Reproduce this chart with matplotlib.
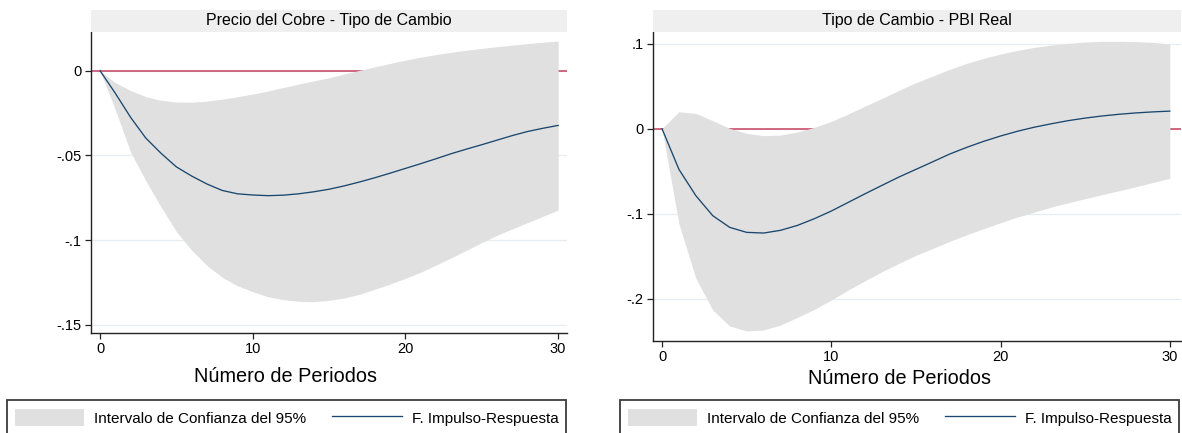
import numpy as np
import matplotlib.pyplot as plt
import matplotlib.patches as mpatches

# datos (periodos 0..30)
periods = list(range(0, 31))

cobre_irf = [0, -0.0133, -0.0275, -0.0398, -0.0488, -0.0568, -0.0622, -0.0669, -0.0707, -0.0727,
             -0.0734, -0.0738, -0.0735, -0.0727, -0.0715, -0.0700, -0.0680, -0.0657, -0.0632, -0.0605,
             -0.0577, -0.0549, -0.0520, -0.0490, -0.0463, -0.0437, -0.0410, -0.0383, -0.0359, -0.0340,
             -0.0323]
cobre_upper = [0, -0.0070, -0.0117, -0.0153, -0.0175, -0.0185, -0.0186, -0.0180, -0.0168, -0.0154,
               -0.0138, -0.0120, -0.0099, -0.0079, -0.0060, -0.0042, -0.0019, 0.0002, 0.0023, 0.0043,
               0.0062, 0.0080, 0.0095, 0.0109, 0.0121, 0.0132, 0.0142, 0.0151, 0.0160, 0.0168,
               0.0175]
cobre_lower = [0, -0.0230, -0.0480, -0.0650, -0.0805, -0.0950, -0.1060, -0.1150, -0.1220, -0.1270,
               -0.1305, -0.1335, -0.1352, -0.1362, -0.1364, -0.1356, -0.1342, -0.1320, -0.1290, -0.1260,
               -0.1226, -0.1190, -0.1148, -0.1105, -0.1060, -0.1015, -0.0972, -0.0934, -0.0897, -0.0860,
               -0.0823]

pbi_irf = [0, -0.0479, -0.0789, -0.1025, -0.1162, -0.1221, -0.1229, -0.1197, -0.1139, -0.1060,
           -0.0970, -0.0868, -0.0766, -0.0667, -0.0569, -0.0479, -0.0389, -0.0298, -0.0220, -0.0149,
           -0.0086, -0.0030, 0.0018, 0.0058, 0.0095, 0.0125, 0.0150, 0.0170, 0.0186, 0.0198,
           0.0207]
pbi_upper = [0, 0.0200, 0.0180, 0.0094, 0.0004, -0.0055, -0.0082, -0.0075, -0.0039, 0.0016,
             0.0086, 0.0173, 0.0267, 0.0357, 0.0452, 0.0542, 0.0620, 0.0699, 0.0770, 0.0828,
             0.0880, 0.0923, 0.0958, 0.0985, 0.1005, 0.1021, 0.1029, 0.1029, 0.1025, 0.1017,
             0.0997]
pbi_lower = [0, -0.1120, -0.1763, -0.2136, -0.2324, -0.2383, -0.2371, -0.2313, -0.2222, -0.2128,
             -0.2018, -0.1900, -0.1790, -0.1684, -0.1586, -0.1492, -0.1410, -0.1327, -0.1249, -0.1178,
             -0.1107, -0.1040, -0.0982, -0.0923, -0.0872, -0.0824, -0.0777, -0.0730, -0.0683, -0.0634,
             -0.0585]

xticks = [0, 10, 20, 30]
cobre_yticks = [0, -0.05, -0.1, -0.15]
cobre_ylabels = ['0', '-.05', '-.1', '-.15']
pbi_yticks = [0.1, 0, -0.1, -0.2]
pbi_ylabels = ['.1', '0', '-.1', '-.2']

plt.rcParams['font.family'] = ['Liberation Sans', 'DejaVu Sans']

W, H = 1182, 433
fig = plt.figure(figsize=(W / 100, H / 100), dpi=100)


def px_rect(x0, y0, x1, y1):
    # pixel box (top-left origin) -> figure fraction
    return [x0 / W, 1 - y1 / H, (x1 - x0) / W, (y1 - y0) / H]


def panel(box, title, lower, upper, irf, xlim, ylim, yticks, ylabels, label_pos, legend_px):
    ax = fig.add_axes(px_rect(*box))
    ax.set_xlim(xlim)
    ax.set_ylim(ylim)

    ax.grid(axis='y', color='#e6eef1', lw=0.9)
    ax.set_axisbelow(True)
    ax.axhline(0, color='#c8405f', lw=1.1, zorder=1)
    band = ax.fill_between(periods, lower, upper, color='#e0e0e0', lw=0, zorder=2,
                           label='Intervalo de Confianza del 95%')
    line, = ax.plot(periods, irf, color='#1a476f', lw=0.95, zorder=3,
                    label='F. Impulso-Respuesta')

    ax.set_xticks(xticks)
    ax.set_yticks(yticks)
    ax.set_yticklabels(ylabels)
    ax.tick_params(direction='out', length=4.5, width=0.9, labelsize=10.5, pad=2, color='#222')
    for s in ['top', 'right']:
        ax.spines[s].set_visible(False)
    for s in ['left', 'bottom']:
        ax.spines[s].set_color('#222')
        ax.spines[s].set_linewidth(1.0)

    ax.set_xlabel('Número de Periodos', fontsize=14.3, va='center')
    ax.xaxis.set_label_coords(*label_pos)

    # franja del titulo
    x0, y0, x1, y1 = box
    strip = mpatches.Rectangle((x0 / W, 1 - y0 / H), (x1 - x0) / W, 22 / H,
                               transform=fig.transFigure, color='#efefef', lw=0)
    fig.add_artist(strip)
    fig.text((x0 + x1) / 2 / W, 1 - (y0 - 12) / H, title, ha='center', va='center',
             fontsize=11.5)

    # leyenda: el marco se corta en el borde inferior
    lx0, ly0, lx1 = legend_px
    ax.legend(handles=[band, line], loc='upper left',
              bbox_to_anchor=(lx0 / W, 0, (lx1 - lx0) / W, 1 - (ly0 + 2) / H),
              bbox_transform=fig.transFigure, ncol=2, mode='expand', frameon=False,
              fontsize=11, handlelength=4.55, handleheight=1.31, handletextpad=0.65,
              borderpad=0.5, borderaxespad=0)
    frame = mpatches.Rectangle((lx0 / W, -0.05), (lx1 - lx0) / W, 1 - ly0 / H + 0.05,
                               transform=fig.transFigure, facecolor='none',
                               edgecolor='#3c3c3c', lw=1.3)
    fig.add_artist(frame)
    return ax


panel((90.7, 32, 567, 333), 'Precio del Cobre - Tipo de Cambio',
      cobre_lower, cobre_upper, cobre_irf, (-0.61, 30.58), (-0.1549, 0.02286),
      cobre_yticks, cobre_ylabels, (0.41, -0.143), (7, 399.5, 566))

panel((652.7, 32, 1181, 340.7), 'Tipo de Cambio - PBI Real',
      pbi_lower, pbi_upper, pbi_irf, (-0.55, 30.66), (-0.2497, 0.1139),
      pbi_yticks, pbi_ylabels, (0.468, -0.124), (620, 399.5, 1179))

fig.savefig('out.png', dpi=100)
